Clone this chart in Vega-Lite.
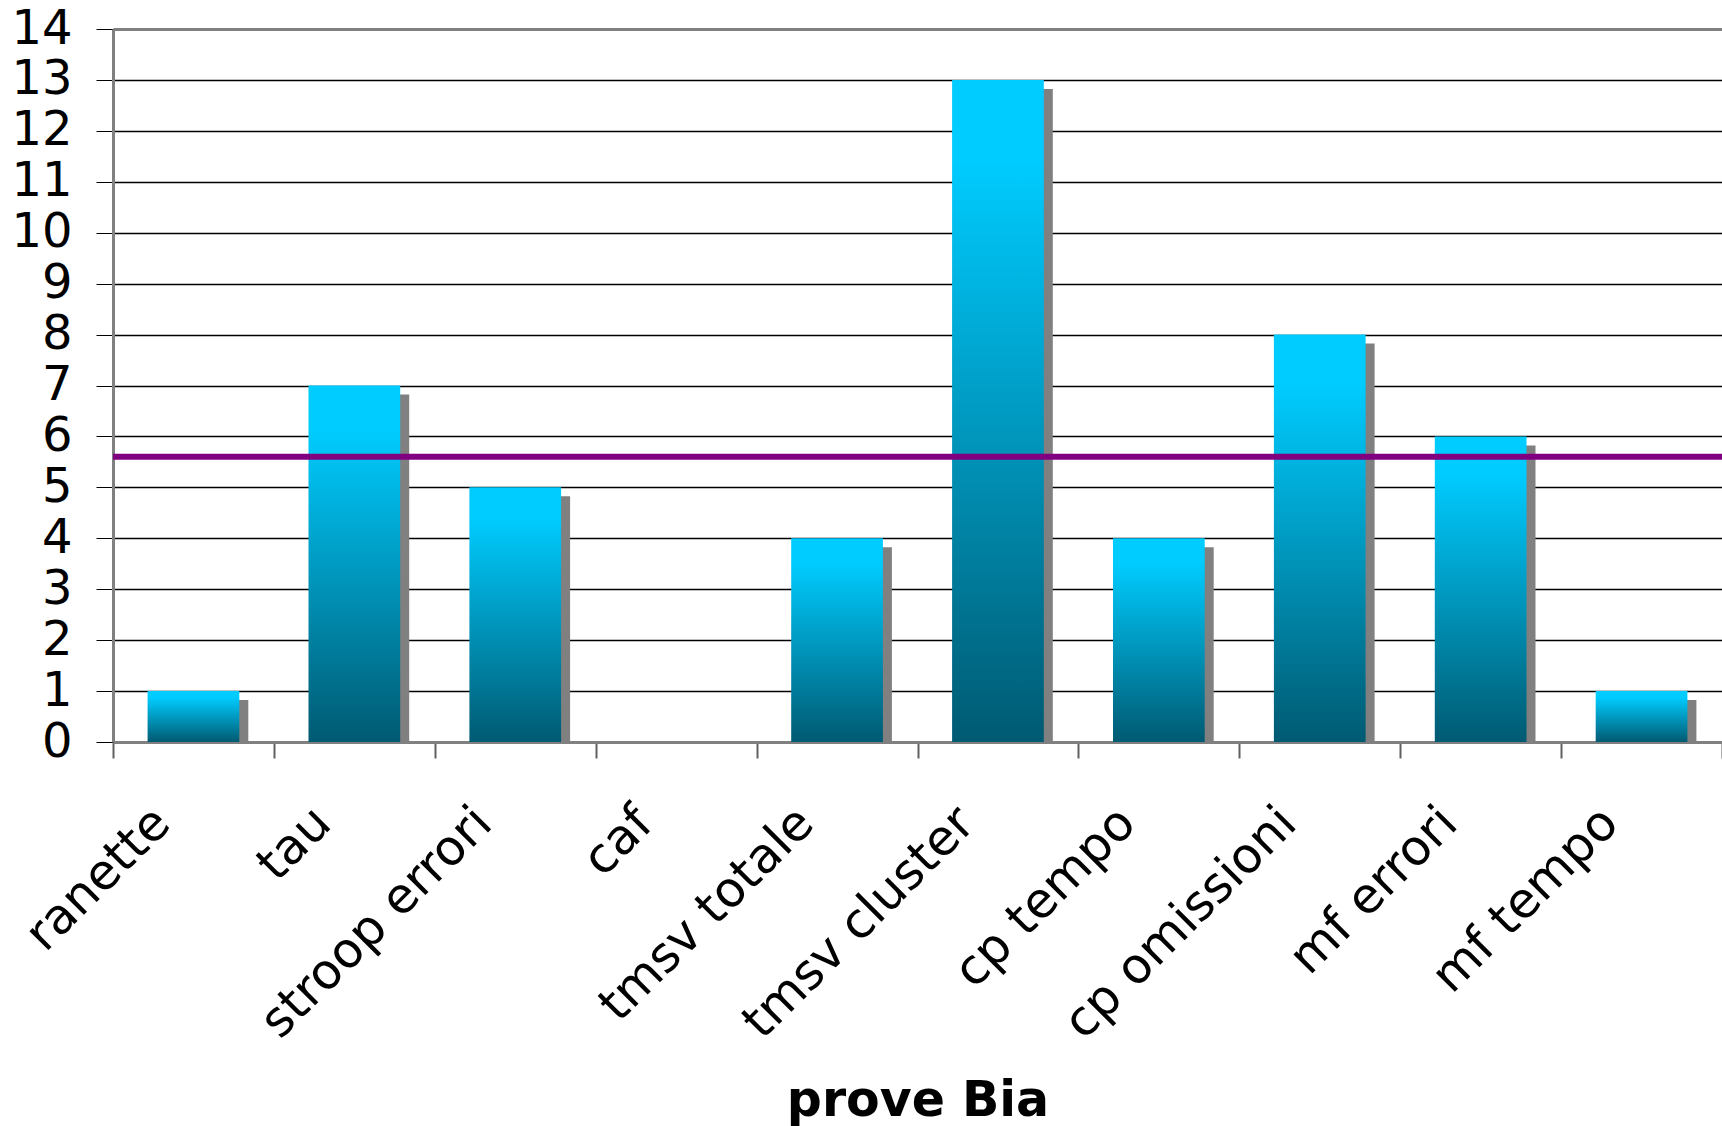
{
  "$schema": "https://vega.github.io/schema/vega-lite/v6.json",
  "width": 1609,
  "height": 713,
  "autosize": "none",
  "padding": {"left": 113, "top": 29, "right": 0, "bottom": 384},
  "background": "white",
  "config": {
    "view": {"stroke": null},
    "font": "DejaVu Sans"
  },
  "datasets": {
    "prove": [
      {"prova": "ranette", "valore": 1},
      {"prova": "tau", "valore": 7},
      {"prova": "stroop errori", "valore": 5},
      {"prova": "caf", "valore": 0},
      {"prova": "tmsv totale", "valore": 4},
      {"prova": "tmsv cluster", "valore": 13},
      {"prova": "cp tempo", "valore": 4},
      {"prova": "cp omissioni", "valore": 8},
      {"prova": "mf errori", "valore": 6},
      {"prova": "mf tempo", "valore": 1}
    ],
    "soglia": [{"valore": 5.6}]
  },
  "encoding": {
    "y": {
      "field": "valore",
      "type": "quantitative",
      "scale": {"domain": [0, 14], "nice": false},
      "axis": {
        "title": null,
        "values": [0, 1, 2, 3, 4, 5, 6, 7, 8, 9, 10, 11, 12, 13, 14],
        "labelFontSize": 48,
        "labelColor": "black",
        "labelPadding": 24,
        "tickSize": 17,
        "tickColor": "black",
        "tickWidth": 1,
        "domainColor": "#808080",
        "domainWidth": 3,
        "grid": true,
        "gridColor": {"condition": {"test": "datum.value == 14", "value": "#808080"}, "value": "black"},
        "gridWidth": {"condition": {"test": "datum.value == 14", "value": 3}, "value": 1.3},
        "gridOpacity": 1
      }
    }
  },
  "layer": [
    {
      "data": {"name": "prove"},
      "transform": [{"filter": "datum.valore > 0"}],
      "mark": {"type": "bar", "color": "#808080", "width": {"band": 0.57}, "xOffset": 9, "yOffset": 9, "clip": true},
      "encoding": {
        "x": {
          "field": "prova",
          "type": "nominal",
          "sort": null,
          "scale": {
            "domain": ["ranette", "tau", "stroop errori", "caf", "tmsv totale", "tmsv cluster", "cp tempo", "cp omissioni", "mf errori", "mf tempo"],
            "paddingInner": 0,
            "paddingOuter": 0
          },
          "axis": {
            "title": "prove Bia",
            "titleFontSize": 49,
            "titleFontWeight": "bold",
            "titleColor": "black",
            "titleBaseline": "alphabetic",
            "titleY": 373,
            "tickBand": "extent",
            "tickSize": 16,
            "tickColor": "#606060",
            "tickWidth": 2,
            "domainColor": "#808080",
            "domainWidth": 3,
            "labelAngle": -45,
            "labelAlign": "right",
            "labelBaseline": "middle",
            "labelFontSize": 49,
            "labelColor": "black",
            "labelPadding": 57,
            "labelOffset": -32,
            "labelOverlap": false,
            "labelLimit": 0,
            "grid": false
          }
        }
      }
    },
    {
      "data": {"name": "prove"},
      "mark": {
        "type": "bar",
        "width": {"band": 0.57},
        "color": {
          "gradient": "linear",
          "x1": 0, "y1": 0, "x2": 0, "y2": 1,
          "stops": [
            {"offset": 0, "color": "#00CCFF"},
            {"offset": 0.12, "color": "#00CCFF"},
            {"offset": 1, "color": "#005A72"}
          ]
        }
      },
      "encoding": {
        "x": {
          "field": "prova",
          "type": "nominal",
          "sort": null,
          "scale": {
            "domain": ["ranette", "tau", "stroop errori", "caf", "tmsv totale", "tmsv cluster", "cp tempo", "cp omissioni", "mf errori", "mf tempo"],
            "paddingInner": 0,
            "paddingOuter": 0
          },
          "axis": {
            "title": "prove Bia",
            "titleFontSize": 49,
            "titleFontWeight": "bold",
            "titleColor": "black",
            "titleBaseline": "alphabetic",
            "titleY": 373,
            "tickBand": "extent",
            "tickSize": 16,
            "tickColor": "#606060",
            "tickWidth": 2,
            "domainColor": "#808080",
            "domainWidth": 3,
            "labelAngle": -45,
            "labelAlign": "right",
            "labelBaseline": "middle",
            "labelFontSize": 49,
            "labelColor": "black",
            "labelPadding": 57,
            "labelOffset": -32,
            "labelOverlap": false,
            "labelLimit": 0,
            "grid": false
          }
        }
      }
    },
    {
      "data": {"name": "soglia"},
      "mark": {"type": "rule", "color": "#800080", "strokeWidth": 6},
      "encoding": {}
    }
  ]
}
